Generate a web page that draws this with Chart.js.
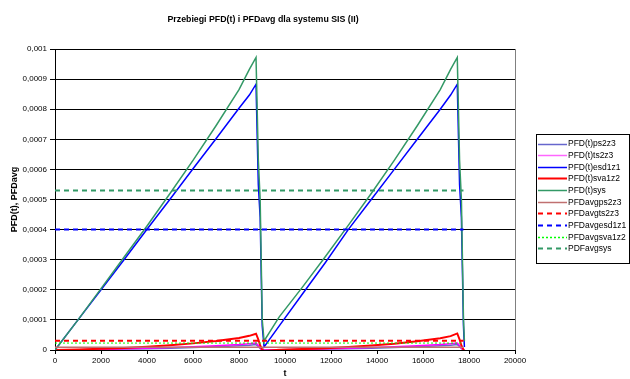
<!DOCTYPE html>
<html>
<head>
<meta charset="utf-8">
<script src="https://cdn.jsdelivr.net/npm/chart.js@4.4.1/dist/chart.umd.min.js"></script>
<style>
  body { margin: 0; background: #fff; }
  #wrap { width: 630px; height: 379px; }
</style>
</head>
<body>
<div id="wrap"><canvas id="myChart" width="630" height="379"></canvas></div>
<script>
// czas t
const t = [0, 1000, 2000, 3000, 4000, 5000, 6000, 7000, 8000, 8450, 8740, 8840, 8920, 9010, 9090,
    9750, 10750, 11750, 12750, 13750, 14750, 15750, 16750, 17200, 17490, 17590, 17670, 17760, 17800];

const pfdPs2z3 = [0, 0.000001, 0.000002, 0.000003, 0.000004, 0.000006, 0.000008, 0.000011, 0.000014, 0.000016, 0.000018, 0.000012, 0.000005, 0, 0,
    0.000001, 0.000002, 0.000003, 0.000004, 0.000006, 0.000008, 0.000011, 0.000014, 0.000016, 0.000018, 0.000012, 0.000005, 0, 0];
const pfdTs2z3 = [0, 0.000001, 0.000002, 0.000004, 0.000006, 0.000008, 0.000011, 0.000014, 0.000018, 0.000021, 0.000023, 0.000015, 0.000006, 0, 0,
    0.000001, 0.000002, 0.000004, 0.000006, 0.000008, 0.000011, 0.000014, 0.000018, 0.000021, 0.000023, 0.000015, 0.000006, 0, 0];
const pfdEsd1z1 = [0, 0.0001, 0.0002, 0.0003, 0.000401, 0.000501, 0.000602, 0.000702, 0.000803, 0.000847, 0.000883, 0.00055, 0.00044, 0.00008, 0.00001,
    0.00008, 0.000185, 0.00029, 0.0004, 0.0005, 0.0006, 0.0007, 0.0008, 0.000847, 0.000883, 0.00055, 0.00044, 0.00008, 0.00001];
const pfdSva1z2 = [0, 0.000002, 0.000004, 0.000007, 0.000011, 0.000016, 0.000022, 0.00003, 0.00004, 0.000047, 0.000054, 0.000035, 0.000015, 0.000001, -0.000003,
    0.000001, 0.000003, 0.000006, 0.00001, 0.000015, 0.000021, 0.000029, 0.000039, 0.000046, 0.000055, 0.000035, 0.000015, 0.000001, 0];
const pfdSys = [0, 0.0001, 0.000204, 0.000308, 0.000412, 0.00052, 0.00063, 0.000745, 0.000865, 0.000932, 0.000972, 0.00063, 0.0005, 0.0001, 0.00003,
    0.00011, 0.000208, 0.00031, 0.000414, 0.00052, 0.00063, 0.000745, 0.000865, 0.000932, 0.000972, 0.00063, 0.0005, 0.0001, 0.00003];

// wartosci srednie (stale)
const tAvg = [0, 17760];
const avgPs2z3 = 0.000009;
const avgTs2z3 = 0.000031;
const avgEsd1z1 = 0.0004;
const avgSva1z2 = 0.000023;
const avgSys = 0.00053;

const yTicks = ['0', '0,0001', '0,0002', '0,0003', '0,0004', '0,0005', '0,0006', '0,0007', '0,0008', '0,0009', '0,001'];

function series(vals) {
    return t.map((x, i) => ({ x: x, y: vals[i] }));
}
function flat(v) {
    return tAvg.map(x => ({ x: x, y: v }));
}

const datasets = [
    { label: 'PFD(t)ps2z3', data: series(pfdPs2z3), borderColor: '#6666cc', borderWidth: 1.5 },
    { label: 'PFD(t)ts2z3', data: series(pfdTs2z3), borderColor: '#ff00ff', borderWidth: 1.5, legendColor: '#ff66ff' },
    { label: 'PFD(t)esd1z1', data: series(pfdEsd1z1), borderColor: '#0000ff', borderWidth: 1.5 },
    { label: 'PFD(t)sva1z2', data: series(pfdSva1z2), borderColor: '#ff0000', borderWidth: 2 },
    { label: 'PFD(t)sys', data: series(pfdSys), borderColor: '#339966', borderWidth: 1.5 },
    { label: 'PFDavgps2z3', data: flat(avgPs2z3), borderColor: '#c07070', borderWidth: 1.5 },
    { label: 'PFDavgts2z3', data: flat(avgTs2z3), borderColor: '#ff0000', borderWidth: 2, borderDash: [5, 4] },
    { label: 'PFDavgesd1z1', data: flat(avgEsd1z1), borderColor: '#0000ff', borderWidth: 2, borderDash: [5, 4] },
    { label: 'PFDavgsva1z2', data: flat(avgSva1z2), borderColor: '#00ff00', borderWidth: 1, borderDash: [2, 2] },
    { label: 'PDFavgsys', data: flat(avgSys), borderColor: '#339966', borderWidth: 2, borderDash: [5, 4] }
];
// Excel rysuje kolejne serie na wierzchu
datasets.forEach((d, i) => {
    d.order = datasets.length - i;
    d.pointRadius = 0;
    d.fill = false;
    d.tension = 0;
});

const font = '"Liberation Sans", Arial, sans-serif';

// tytul, ramka i legenda
const extras = {
    id: 'extras',
    beforeDatasetsDraw(chart) {
        const { ctx, chartArea: a } = chart;
        ctx.save();
        ctx.strokeStyle = '#808080';
        ctx.lineWidth = 1;
        ctx.beginPath();
        ctx.moveTo(a.right + 0.5, a.top);
        ctx.lineTo(a.right + 0.5, a.bottom);
        ctx.stroke();
        ctx.restore();
    },
    afterDraw(chart) {
        const { ctx } = chart;
        ctx.save();
        ctx.fillStyle = '#000';
        ctx.font = 'bold 8.8px ' + font;
        ctx.textAlign = 'center';
        ctx.textBaseline = 'middle';
        ctx.fillText('Przebiegi PFD(t) i PFDavg dla systemu SIS (II)', 263, 19.5);

        // legenda
        const lx = 536, ly = 134, lw = 93, lh = 129;
        ctx.strokeStyle = '#000';
        ctx.lineWidth = 1;
        ctx.strokeRect(lx + 0.5, ly + 0.5, lw, lh);
        ctx.font = '8.5px ' + font;
        ctx.textAlign = 'left';
        chart.data.datasets.forEach((d, i) => {
            const y = 143.5 + i * 11.65;
            ctx.save();
            ctx.strokeStyle = d.legendColor || d.borderColor;
            ctx.lineWidth = Math.max(d.borderWidth, 1.5);
            ctx.setLineDash(d.borderDash || []);
            ctx.beginPath();
            ctx.moveTo(538, Math.round(y) + 0.5);
            ctx.lineTo(567, Math.round(y) + 0.5);
            ctx.stroke();
            ctx.restore();
            ctx.fillStyle = '#000';
            ctx.fillText(d.label, 568, y + 0.5);
        });
        ctx.restore();
    }
};

const ctx = document.getElementById('myChart').getContext('2d');
const myChart = new Chart(ctx, {
    type: 'line',
    data: { datasets: datasets },
    options: {
        responsive: false,
        animation: false,
        layout: { padding: { top: 49, right: 115, left: 9, bottom: 0 } },
        plugins: {
            legend: { display: false },
            tooltip: { enabled: false }
        },
        scales: {
            x: {
                type: 'linear',
                min: 0,
                max: 20000,
                ticks: {
                    stepSize: 2000,
                    color: '#000',
                    font: { size: 8, family: font },
                    maxRotation: 0,
                    padding: 2,
                    callback: v => String(v)
                },
                grid: { display: true, drawOnChartArea: false, drawTicks: true, tickLength: 4, color: '#000' },
                border: { color: '#000' },
                title: { display: true, text: 't', color: '#000', font: { size: 9, weight: 'bold', family: font }, padding: 0 },
                afterFit(scale) { scale.height = 29; }
            },
            y: {
                min: 0,
                max: 0.001,
                ticks: {
                    stepSize: 0.0001,
                    color: '#000',
                    font: { size: 8, family: font },
                    padding: 3,
                    callback: (v, i) => yTicks[i]
                },
                grid: { color: '#000', tickLength: 5, drawTicks: true },
                border: { color: '#000' },
                title: { display: true, text: 'PFD(t), PFDavg', color: '#000', font: { size: 9, weight: 'bold', family: font }, padding: 0 },
                afterFit(scale) { scale.width = 46; }
            }
        }
    },
    plugins: [extras]
});
</script>
</body>
</html>
